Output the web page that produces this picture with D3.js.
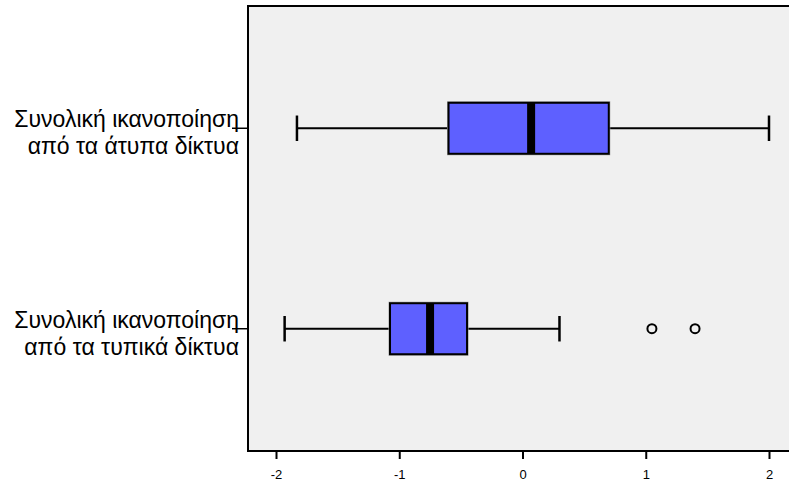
<!DOCTYPE html>
<html>
<head>
<meta charset="utf-8">
<script src="https://cdn.jsdelivr.net/npm/d3@7"></script>
<style>
  body { margin: 0; background: #fff; }
  svg { display: block; font-family: "Liberation Sans", Arial, sans-serif; }
</style>
</head>
<body>
<div class="workspace"></div>
<script>
// categories (top to bottom) and box statistics
const categories = [
  ['Συνολική ικανοποίηση', 'από τα άτυπα δίκτυα'],
  ['Συνολική ικανοποίηση', 'από τα τυπικά δίκτυα'],
];
const whiskerLow = [-1.83, -1.93];
const q1 = [-0.6, -1.075];
const median = [0.07, -0.75];
const q3 = [0.7, -0.45];
const whiskerHigh = [2.0, 0.3];
const outliers = [[], [1.05, 1.4]];
const xTicks = [-2, -1, 0, 1, 2];

const width = 789;
const height = 484;
const plot = { left: 248, top: 6, right: 800, bottom: 451 };

const svg = d3
  .select('.workspace')
  .append('svg')
  .attr('width', width)
  .attr('height', height);

const x = d3.scaleLinear().domain([-2, 2]).range([276, 769]);
const y = d3
  .scalePoint()
  .domain(d3.range(categories.length))
  .range([plot.top, plot.bottom])
  .padding(0.61);

const boxH = 51;

// plot background
svg
  .append('rect')
  .attr('x', plot.left)
  .attr('y', plot.top)
  .attr('width', plot.right - plot.left)
  .attr('height', plot.bottom - plot.top)
  .style('fill', '#f0f0f0')
  .style('stroke', '#000')
  .style('stroke-width', 2);

const rows = svg
  .selectAll('g.row')
  .data(d3.range(categories.length))
  .enter()
  .append('g')
  .attr('class', 'row')
  .attr('transform', (i) => `translate(0,${y(i)})`);

// whisker line
rows
  .append('line')
  .attr('x1', (i) => x(whiskerLow[i]))
  .attr('x2', (i) => x(whiskerHigh[i]))
  .style('stroke', '#000')
  .style('stroke-width', 2);

// whisker caps
rows.each(function (i) {
  const g = d3.select(this);
  [whiskerLow[i], whiskerHigh[i]].forEach(function (v) {
    g.append('line')
      .attr('x1', x(v))
      .attr('x2', x(v))
      .attr('y1', -boxH / 4)
      .attr('y2', boxH / 4)
      .style('stroke', '#000')
      .style('stroke-width', 2.5);
  });
});

// box shadow + box
rows
  .append('rect')
  .attr('x', (i) => x(q1[i]) - 1)
  .attr('y', -boxH / 2 - 1)
  .attr('width', (i) => x(q3[i]) - x(q1[i]) + 2)
  .attr('height', boxH + 2)
  .style('fill', 'none')
  .style('stroke', '#a0a0a0')
  .style('stroke-width', 1);

rows
  .append('rect')
  .attr('x', (i) => x(q1[i]))
  .attr('y', -boxH / 2)
  .attr('width', (i) => x(q3[i]) - x(q1[i]))
  .attr('height', boxH)
  .style('fill', '#5e60ff')
  .style('stroke', '#000')
  .style('stroke-width', 2);

// median
rows
  .append('line')
  .attr('x1', (i) => x(median[i]))
  .attr('x2', (i) => x(median[i]))
  .attr('y1', -boxH / 2)
  .attr('y2', boxH / 2)
  .style('stroke', '#000')
  .style('stroke-width', 8);

// outliers
rows.each(function (i) {
  d3.select(this)
    .selectAll('circle')
    .data(outliers[i])
    .enter()
    .append('circle')
    .attr('cx', (d) => x(d))
    .attr('cy', 0)
    .attr('r', 4.5)
    .style('fill', 'none')
    .style('stroke', '#000')
    .style('stroke-width', 2);
});

// y axis ticks and labels
rows
  .append('line')
  .attr('x1', plot.left - 16)
  .attr('x2', plot.left)
  .style('stroke', '#000')
  .style('stroke-width', 1.5);

rows.each(function (i) {
  const t = d3
    .select(this)
    .append('text')
    .attr('text-anchor', 'end')
    .style('font-size', '23px')
    .style('fill', '#000');
  categories[i].forEach(function (line, k) {
    t.append('tspan')
      .attr('x', 239)
      .attr('y', k === 0 ? -1 : 26)
      .text(line);
  });
});

// x axis
const xAxis = svg
  .append('g')
  .attr('transform', `translate(0,${plot.bottom})`)
  .call(d3.axisBottom(x).tickValues(xTicks).tickSize(8).tickSizeOuter(0).tickPadding(11).tickFormat(d3.format('d')));
xAxis.select('.domain').remove();
xAxis.selectAll('line').style('stroke', '#000').style('stroke-width', 2);
xAxis
  .selectAll('text')
  .style('font-size', '13px')
  .style('font-family', '"Liberation Sans", Arial, sans-serif')
  .style('fill', '#000')
  .text((d) => (d < 0 ? '-' + Math.abs(d) : d));
</script>
</body>
</html>
